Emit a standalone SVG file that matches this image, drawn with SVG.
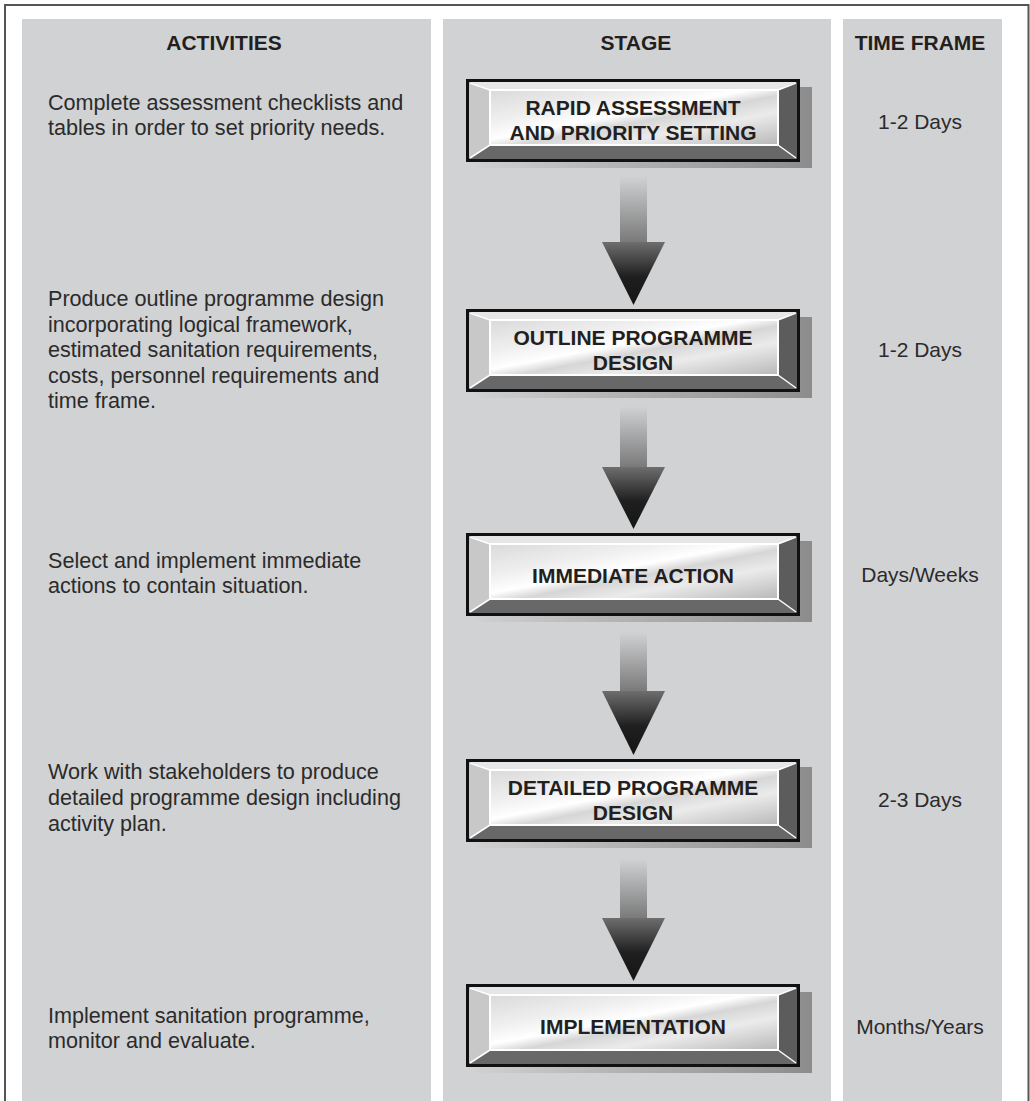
<svg xmlns="http://www.w3.org/2000/svg" xmlns:xlink="http://www.w3.org/1999/xlink" width="1030" height="1101" viewBox="0 0 1030 1101">
<style>
.panel{fill:#d1d2d4}
.hdr{font-family:"Liberation Sans",Arial,sans-serif;font-size:21px;font-weight:bold;fill:#231f20;text-anchor:middle}
.body{font-family:"Liberation Sans",Arial,sans-serif;font-size:21.6px;fill:#2b2b2b}
.time{font-family:"Liberation Sans",Arial,sans-serif;font-size:21px;fill:#2b2b2b;text-anchor:middle}
.lbl{font-family:"Liberation Sans",Arial,sans-serif;font-size:21px;font-weight:bold;fill:#231f20;text-anchor:middle}
</style>
<defs>
<linearGradient id="face" x1="0" y1="0" x2="1" y2="1">
<stop offset="0" stop-color="#dadada"/>
<stop offset="0.3" stop-color="#f0f0f0"/>
<stop offset="0.45" stop-color="#ffffff"/>
<stop offset="0.55" stop-color="#d6d6d6"/>
<stop offset="0.7" stop-color="#ebebeb"/>
<stop offset="1" stop-color="#b8b8b8"/>
</linearGradient>
<linearGradient id="shadow" x1="0" y1="0" x2="1" y2="0">
<stop offset="0" stop-color="#cfd0d2"/>
<stop offset="0.5" stop-color="#aeaeae"/>
<stop offset="1" stop-color="#8c8c8c"/>
</linearGradient>
<linearGradient id="shaft" x1="0" y1="0" x2="0" y2="1">
<stop offset="0" stop-color="#d1d2d4"/>
<stop offset="1" stop-color="#7a7a7a"/>
</linearGradient>
<linearGradient id="head" x1="0" y1="0" x2="0" y2="1">
<stop offset="0" stop-color="#6e6e6e"/>
<stop offset="0.55" stop-color="#1f1f1f"/>
<stop offset="1" stop-color="#151515"/>
</linearGradient>
<g id="bevelbox">
<rect x="10" y="8" width="336" height="81" fill="url(#shadow)"/>
<rect x="0" y="0" width="334" height="83" fill="#111"/>
<polygon points="3,3 331,3 312,11 24,11" fill="#e6e6e6"/>
<polygon points="3,3 24,11 24,66 3,80" fill="#c8c8c8"/>
<polygon points="331,3 331,80 312,66 312,11" fill="#5c5c5c"/>
<polygon points="3,80 24,66 312,66 331,80" fill="#686868"/>
<rect x="24" y="11" width="288" height="55" fill="url(#face)" stroke="#ffffff" stroke-width="2"/>
<g stroke="#ffffff" stroke-width="1.5">
<line x1="4" y1="4" x2="24" y2="11"/>
<line x1="330" y1="4" x2="312" y2="11"/>
<line x1="4" y1="79" x2="24" y2="66"/>
<line x1="330" y1="79" x2="312" y2="66"/>
</g>
</g>
</defs>
<rect x="0" y="0" width="1030" height="1101" fill="#ffffff"/>
<path d="M5 1101 V5 H1028.5 V1101" fill="none" stroke="#555" stroke-width="2"/>
<rect class="panel" x="22" y="19" width="409" height="1082"/>
<rect class="panel" x="443" y="19" width="388" height="1082"/>
<rect class="panel" x="843" y="19" width="159" height="1082"/>
<text class="hdr" x="224" y="50">ACTIVITIES</text>
<text class="hdr" x="636" y="50">STAGE</text>
<text class="hdr" x="920" y="50">TIME FRAME</text>
<g id="connectors">
<g id="arrow1"><rect x="620" y="176" width="27" height="66" fill="url(#shaft)"/><polygon points="602,242 665,242 633.5,305" fill="url(#head)"/></g>
<g id="arrow2"><rect x="620" y="406" width="27" height="61" fill="url(#shaft)"/><polygon points="602,467 665,467 633.5,529" fill="url(#head)"/></g>
<g id="arrow3"><rect x="620" y="632" width="27" height="59" fill="url(#shaft)"/><polygon points="602,691 665,691 633.5,755" fill="url(#head)"/></g>
<g id="arrow4"><rect x="620" y="859" width="27" height="59" fill="url(#shaft)"/><polygon points="602,918 665,918 633.5,981" fill="url(#head)"/></g>
</g>
<g id="stage1"><use xlink:href="#bevelbox" href="#bevelbox" x="466" y="79"/><text class="lbl" x="633" y="115">RAPID ASSESSMENT</text><text class="lbl" x="633" y="140">AND PRIORITY SETTING</text></g>
<g id="stage2"><use xlink:href="#bevelbox" href="#bevelbox" x="466" y="309"/><text class="lbl" x="633" y="345">OUTLINE PROGRAMME</text><text class="lbl" x="633" y="370">DESIGN</text></g>
<g id="stage3"><use xlink:href="#bevelbox" href="#bevelbox" x="466" y="533"/><text class="lbl" x="633" y="583">IMMEDIATE ACTION</text></g>
<g id="stage4"><use xlink:href="#bevelbox" href="#bevelbox" x="466" y="759"/><text class="lbl" x="633" y="795">DETAILED PROGRAMME</text><text class="lbl" x="633" y="820">DESIGN</text></g>
<g id="stage5"><use xlink:href="#bevelbox" href="#bevelbox" x="466" y="984"/><text class="lbl" x="633" y="1034">IMPLEMENTATION</text></g>
<g id="activities">
<text class="body" x="48" y="110">Complete assessment checklists and</text>
<text class="body" x="48" y="135">tables in order to set priority needs.</text>
<text class="body" x="48" y="306">Produce outline programme design</text>
<text class="body" x="48" y="331.5">incorporating logical framework,</text>
<text class="body" x="48" y="357">estimated sanitation requirements,</text>
<text class="body" x="48" y="382.5">costs, personnel requirements and</text>
<text class="body" x="48" y="408">time frame.</text>
<text class="body" x="48" y="568">Select and implement immediate</text>
<text class="body" x="48" y="593">actions to contain situation.</text>
<text class="body" x="48" y="779">Work with stakeholders to produce</text>
<text class="body" x="48" y="805">detailed programme design including</text>
<text class="body" x="48" y="831">activity plan.</text>
<text class="body" x="48" y="1023">Implement sanitation programme,</text>
<text class="body" x="48" y="1048">monitor and evaluate.</text>
</g>
<g id="timeframes">
<text class="time" x="920" y="129">1-2 Days</text>
<text class="time" x="920" y="357">1-2 Days</text>
<text class="time" x="920" y="582">Days/Weeks</text>
<text class="time" x="920" y="807">2-3 Days</text>
<text class="time" x="920" y="1034">Months/Years</text>
</g>
</svg>
